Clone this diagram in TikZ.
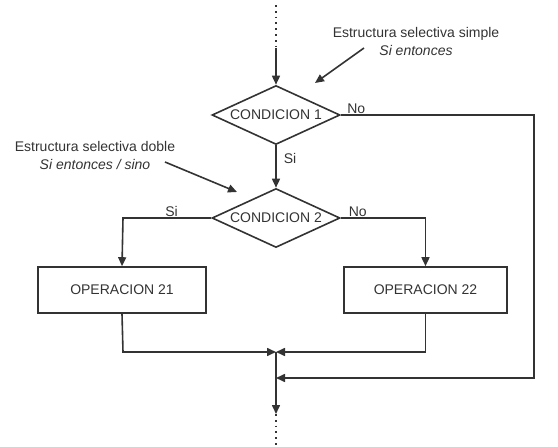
\documentclass[tikz,border=0pt]{standalone}
\usepackage{fontspec}
\setmainfont{Liberation Sans}
\usetikzlibrary{shapes.geometric,arrows.meta}
\begin{document}
\begin{tikzpicture}[x=1pt,y=-1pt,
  every node/.style={font=\fontsize{14}{18}\selectfont, text=black!80},
  line/.style={draw=black!80, line width=1.6pt},
  arr/.style={line, -{Triangle[length=9pt,width=8pt]}},
  dots/.style={draw=black!80, line width=1.8pt, dash pattern=on 1.8pt off 4pt},
  dec/.style={diamond, draw=black!80, line width=1.6pt, minimum width=128pt, minimum height=59pt, inner sep=0pt, aspect=2.17},
  opbox/.style={rectangle, draw=black!80, line width=1.6pt, minimum height=46pt, inner sep=0pt},
  lbl/.style={inner sep=1pt}]
\useasboundingbox (0,0) rectangle (558,447);
% nodes
\node[dec] (c1) at (276,115) {CONDICION 1};
\node[dec] (c2) at (276,218) {CONDICION 2};
\node[opbox, minimum width=168pt] (o1) at (122,290) {OPERACION 21};
\node[opbox, minimum width=163pt] (o2) at (425.5,290) {OPERACION 22};
\coordinate (top0) at (276,5);
\coordinate (top1) at (276,48);
\coordinate (j1) at (276,352);
\coordinate (j2) at (276,378);
\coordinate (b1) at (276,414);
\coordinate (b2) at (276,447);
\coordinate (r1) at (534,115);
\coordinate (r2) at (534,378);
\coordinate (l2) at (123,218);
\coordinate (rr2) at (425.5,218);
\coordinate (lb) at (123,352);
\coordinate (rb) at (425.5,352);
% flow
\draw[dots] (top0) -- (top1);
\draw[arr] (top1) -- (c1.north);
\draw[arr] (c1.south) -- node[lbl, right=6pt, pos=0.3] {Si} (c2.north);
\draw[arr] (c1.east) -- node[lbl, above, pos=0.08] {No} (r1) -- (r2) -- (j2);
\draw[arr] (c2.west) -- node[lbl, above, pos=0.45] {Si} (l2) -- (o1.north);
\draw[arr] (c2.east) -- node[lbl, above, pos=0.2] {No} (rr2) -- (o2.north);
\draw[arr] (o1.south) -- (lb) -- (j1);
\draw[arr] (o2.south) -- (rb) -- (j1);
\draw[arr] (j1) -- (b1);
\draw[dots] (b1) -- (b2);
% annotations
\node[lbl, align=center] (a1) at (416,41) {Estructura selectiva simple\\\textit{Si entonces}};
\node[lbl, align=center] (a2) at (95,155) {Estructura selectiva doble\\\textit{Si entonces / sino}};
\coordinate (a1s) at (364,48);
\coordinate (a1t) at (315,83);
\coordinate (a2s) at (165,162);
\coordinate (a2t) at (237,192);
\draw[arr] (a1s) -- (a1t);
\draw[arr] (a2s) -- (a2t);
\end{tikzpicture}
\end{document}
